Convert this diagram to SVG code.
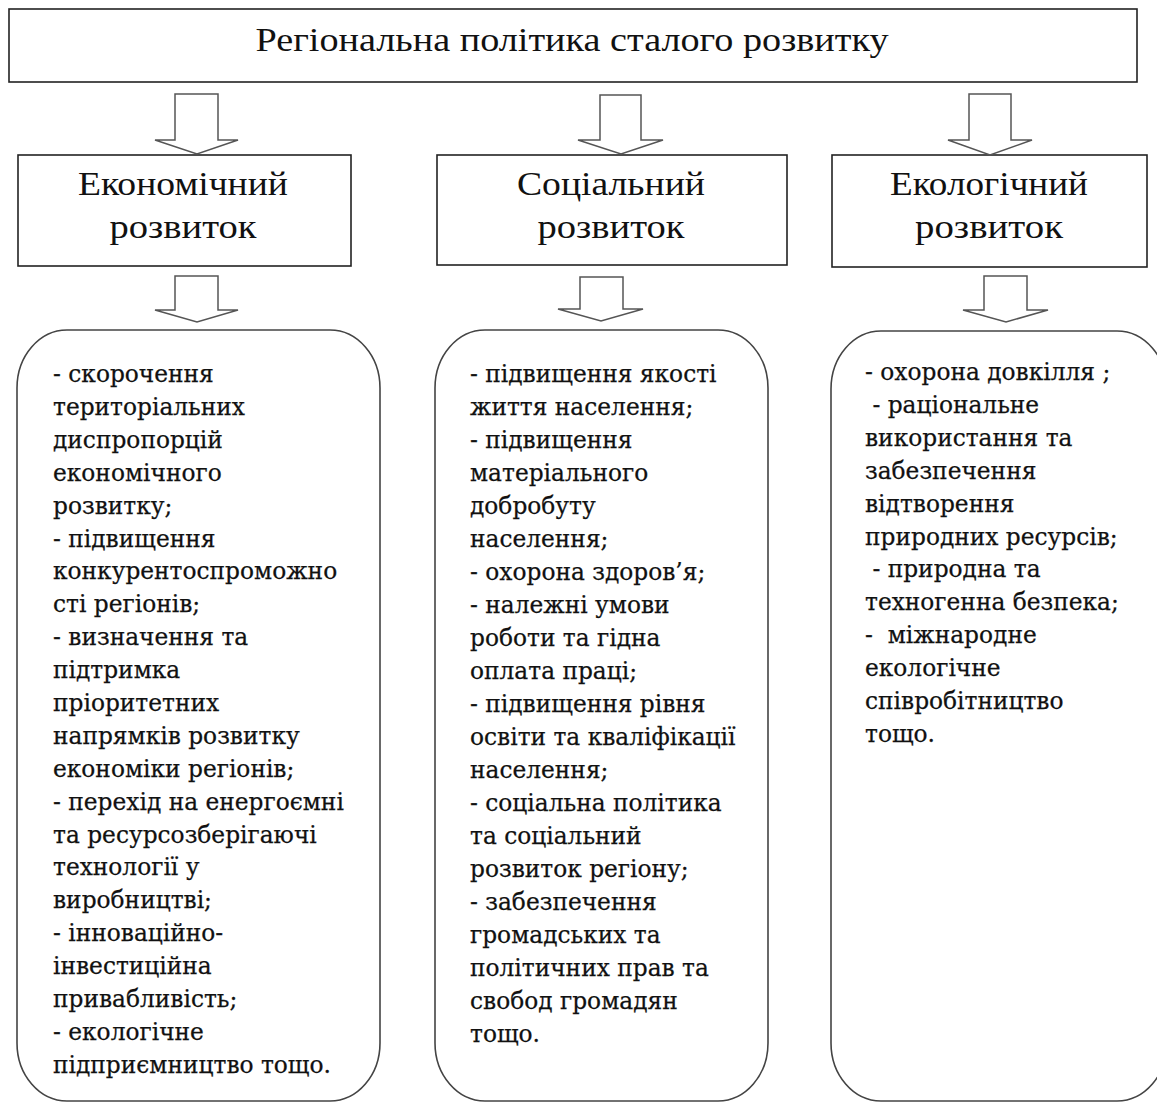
<svg xmlns="http://www.w3.org/2000/svg" width="1157" height="1102" viewBox="0 0 1157 1102">
<style>
.box{fill:#fff;stroke:#222;stroke-width:1.6}
.rbox{fill:#fff;stroke:#444;stroke-width:1.6}
.arr{fill:#fff;stroke:#555;stroke-width:1.5;stroke-linejoin:miter}
.h{font-family:"Liberation Serif","Times New Roman",serif;font-size:34px;fill:#111;text-anchor:middle}
.b{font-family:"DejaVu Serif","Liberation Serif",serif;font-size:23.3px;fill:#111;stroke:#111;stroke-width:0.25}
</style>
<rect width="1157" height="1102" fill="#fff"/>
<g id="title">
<rect class="box" x="9" y="9" width="1128" height="73"/>
<text class="h" x="572" y="51" textLength="633" lengthAdjust="spacingAndGlyphs">Регіональна політика сталого розвитку</text>
</g>
<g id="econ">
<rect class="box" x="18" y="155" width="333" height="111"/>
<text class="h" x="183" y="195" textLength="210" lengthAdjust="spacingAndGlyphs">Економічний</text>
<text class="h" x="183" y="238" textLength="147" lengthAdjust="spacingAndGlyphs">розвиток</text>
</g>
<g id="social">
<rect class="box" x="437" y="155" width="350" height="110"/>
<text class="h" x="611" y="195" textLength="188" lengthAdjust="spacingAndGlyphs">Соціальний</text>
<text class="h" x="611" y="238" textLength="147" lengthAdjust="spacingAndGlyphs">розвиток</text>
</g>
<g id="ecol">
<rect class="box" x="832" y="155" width="315" height="112"/>
<text class="h" x="989" y="195" textLength="198" lengthAdjust="spacingAndGlyphs">Екологічний</text>
<text class="h" x="989" y="238" textLength="148" lengthAdjust="spacingAndGlyphs">розвиток</text>
</g>
<g id="econ-list">
<rect class="rbox" x="17" y="330" width="363" height="771" rx="50" ry="58"/>
<text class="b" x="53" y="382">
<tspan x="53" dy="0">- скорочення</tspan>
<tspan x="53" dy="32.9">територіальних</tspan>
<tspan x="53" dy="32.9">диспропорцій</tspan>
<tspan x="53" dy="32.9">економічного</tspan>
<tspan x="53" dy="32.9">розвитку;</tspan>
<tspan x="53" dy="32.9">- підвищення</tspan>
<tspan x="53" dy="32.9">конкурентоспроможно</tspan>
<tspan x="53" dy="32.9">сті регіонів;</tspan>
<tspan x="53" dy="32.9">- визначення та</tspan>
<tspan x="53" dy="32.9">підтримка</tspan>
<tspan x="53" dy="32.9">пріоритетних</tspan>
<tspan x="53" dy="32.9">напрямків розвитку</tspan>
<tspan x="53" dy="32.9">економіки регіонів;</tspan>
<tspan x="53" dy="32.9">- перехід на енергоємні</tspan>
<tspan x="53" dy="32.9">та ресурсозберігаючі</tspan>
<tspan x="53" dy="32.9">технології у</tspan>
<tspan x="53" dy="32.9">виробництві;</tspan>
<tspan x="53" dy="32.9">- інноваційно-</tspan>
<tspan x="53" dy="32.9">інвестиційна</tspan>
<tspan x="53" dy="32.9">привабливість;</tspan>
<tspan x="53" dy="32.9">- екологічне</tspan>
<tspan x="53" dy="32.9">підприємництво тощо.</tspan>
</text>
</g>
<g id="social-list">
<rect class="rbox" x="435" y="330" width="333" height="771" rx="50" ry="58"/>
<text class="b" x="470" y="382">
<tspan x="470" dy="0">- підвищення якості</tspan>
<tspan x="470" dy="33">життя населення;</tspan>
<tspan x="470" dy="33">- підвищення</tspan>
<tspan x="470" dy="33">матеріального</tspan>
<tspan x="470" dy="33">добробуту</tspan>
<tspan x="470" dy="33">населення;</tspan>
<tspan x="470" dy="33">- охорона здоров’я;</tspan>
<tspan x="470" dy="33">- належні умови</tspan>
<tspan x="470" dy="33">роботи та гідна</tspan>
<tspan x="470" dy="33">оплата праці;</tspan>
<tspan x="470" dy="33">- підвищення рівня</tspan>
<tspan x="470" dy="33">освіти та кваліфікації</tspan>
<tspan x="470" dy="33">населення;</tspan>
<tspan x="470" dy="33">- соціальна політика</tspan>
<tspan x="470" dy="33">та соціальний</tspan>
<tspan x="470" dy="33">розвиток регіону;</tspan>
<tspan x="470" dy="33">- забезпечення</tspan>
<tspan x="470" dy="33">громадських та</tspan>
<tspan x="470" dy="33">політичних прав та</tspan>
<tspan x="470" dy="33">свобод громадян</tspan>
<tspan x="470" dy="33">тощо.</tspan>
</text>
</g>
<g id="ecol-list">
<rect class="rbox" x="831" y="331" width="336" height="770" rx="50" ry="58"/>
<text class="b" x="865" y="380" xml:space="preserve">
<tspan x="865" dy="0">- охорона довкілля ;</tspan>
<tspan x="865" dy="32.9"> - раціональне</tspan>
<tspan x="865" dy="32.9">використання та</tspan>
<tspan x="865" dy="32.9">забезпечення</tspan>
<tspan x="865" dy="32.9">відтворення</tspan>
<tspan x="865" dy="32.9">природних ресурсів;</tspan>
<tspan x="865" dy="32.9"> - природна та</tspan>
<tspan x="865" dy="32.9">техногенна безпека;</tspan>
<tspan x="865" dy="32.9">-  міжнародне</tspan>
<tspan x="865" dy="32.9">екологічне</tspan>
<tspan x="865" dy="32.9">співробітництво</tspan>
<tspan x="865" dy="32.9">тощо.</tspan>
</text>
</g>
<g id="connectors">
<polygon class="arr" points="175,94 218,94 218,140 238,140 197,154 155,140 175,140"/>
<polygon class="arr" points="600,95 641,95 641,140 663,140 621,154 578,140 600,140"/>
<polygon class="arr" points="969,94 1011,94 1011,140 1032,140 990,155 948,140 969,140"/>
<polygon class="arr" points="175,276 218,276 218,310 238,310 197,322 155,310 175,310"/>
<polygon class="arr" points="580,277 623,277 623,309 643,309 601,321 558,309 580,309"/>
<polygon class="arr" points="984,276 1027,276 1027,310 1048,310 1006,322 963,310 984,310"/>
</g>
</svg>
